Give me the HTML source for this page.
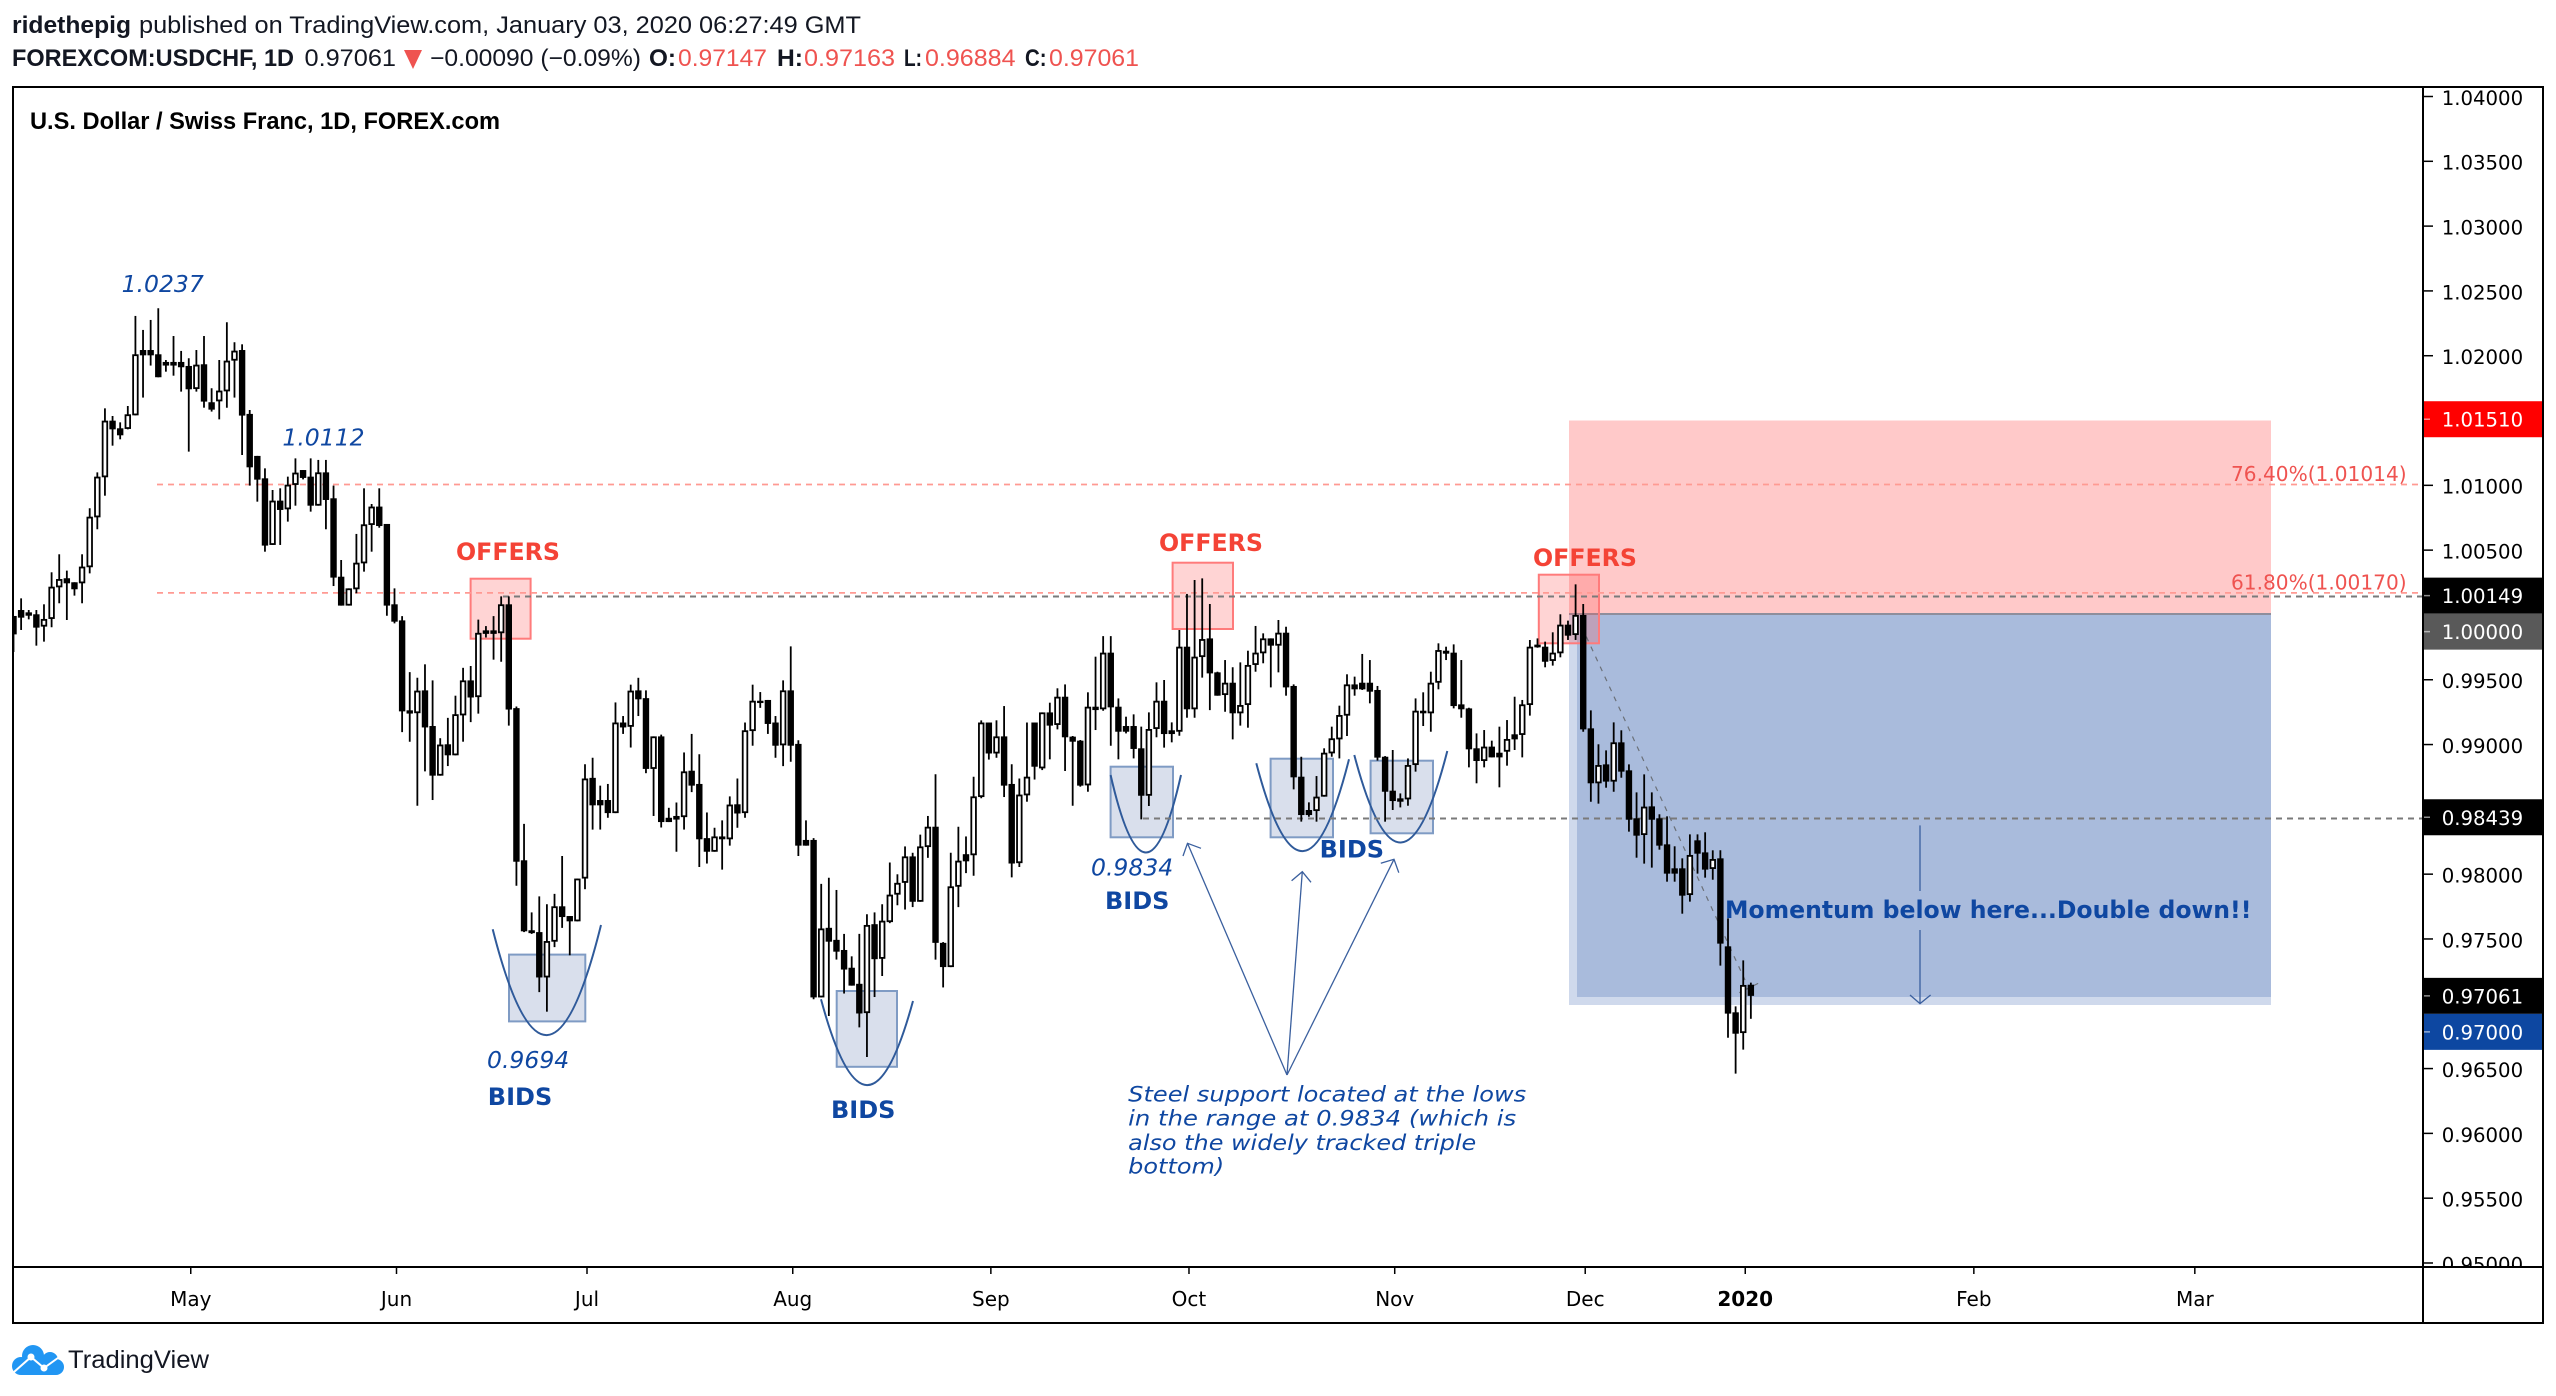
<!DOCTYPE html>
<html lang="en">
<head>
<meta charset="utf-8">
<title>USDCHF chart</title>
<style>
html,body{margin:0;padding:0;background:#fff;width:2556px;height:1396px;overflow:hidden}
svg{display:block}
.hdr{font-family:"Liberation Sans",sans-serif;font-size:24px;fill:#131722}
.b{font-weight:bold}
.red{fill:#ef5350}
.dj{font-family:"DejaVu Sans",sans-serif}
.note{font-family:"DejaVu Sans",sans-serif;font-style:italic;fill:#0f47a1}
.strong-blue{font-family:"DejaVu Sans",sans-serif;font-weight:bold;fill:#0f47a1;font-size:24px}
.offers{font-family:"DejaVu Sans",sans-serif;font-weight:bold;fill:#f44336;font-size:23.7px}
.fib{font-family:"DejaVu Sans",sans-serif;fill:#ef5350;font-size:20px}
.ax{font-family:"DejaVu Sans",sans-serif;font-size:19.7px;fill:#000}
.tm{font-family:"DejaVu Sans",sans-serif;font-size:20px;fill:#000;text-anchor:middle}
</style>
</head>
<body>
<svg id="chart" xmlns="http://www.w3.org/2000/svg" width="2556" height="1396" viewBox="0 0 2556 1396">
  <defs>
    <clipPath id="paneClip"><rect x="13" y="87" width="2410" height="1180"/></clipPath>
    <clipPath id="axisClip"><rect x="2423" y="87" width="120" height="1180"/></clipPath>
  </defs>
  <rect x="0" y="0" width="2556" height="1396" fill="#fff"/>

  <g>
    <text class="hdr b" x="12" y="33" textLength="119" lengthAdjust="spacingAndGlyphs">ridethepig</text>
    <text class="hdr" x="139" y="33" textLength="722" lengthAdjust="spacingAndGlyphs">published on TradingView.com, January 03, 2020 06:27:49 GMT</text>
    <text class="hdr b" x="12" y="66" textLength="282" lengthAdjust="spacingAndGlyphs">FOREXCOM:USDCHF, 1D</text>
    <text class="hdr" x="304.5" y="66" textLength="91.5" lengthAdjust="spacingAndGlyphs">0.97061</text>
    <polygon points="404,50 422,50 413,69" fill="#ef5350"/>
    <text class="hdr" x="430" y="66" textLength="211" lengthAdjust="spacingAndGlyphs">−0.00090 (−0.09%)</text>
    <text class="hdr b" x="649" y="66" textLength="27" lengthAdjust="spacingAndGlyphs">O:</text>
    <text class="hdr red" x="678" y="66" textLength="89" lengthAdjust="spacingAndGlyphs">0.97147</text>
    <text class="hdr b" x="777" y="66" textLength="26" lengthAdjust="spacingAndGlyphs">H:</text>
    <text class="hdr red" x="804" y="66" textLength="91" lengthAdjust="spacingAndGlyphs">0.97163</text>
    <text class="hdr b" x="904" y="66" textLength="18" lengthAdjust="spacingAndGlyphs">L:</text>
    <text class="hdr red" x="925" y="66" textLength="90.5" lengthAdjust="spacingAndGlyphs">0.96884</text>
    <text class="hdr b" x="1025" y="66" textLength="21.5" lengthAdjust="spacingAndGlyphs">C:</text>
    <text class="hdr red" x="1049" y="66" textLength="90" lengthAdjust="spacingAndGlyphs">0.97061</text>
  </g>

  <g id="zones" clip-path="url(#paneClip)">
    <rect x="1569" y="420.5" width="702" height="193.5" fill="#ffc9c9"/>
    <rect x="1569" y="614" width="702" height="391" fill="#cfd9ec"/>
    <rect x="1577" y="614" width="694" height="383" fill="#a9bbdc"/>
    <line x1="1569" y1="614" x2="2271" y2="614" stroke="#8e8e9c" stroke-width="2"/>

    <g fill="rgba(255,82,82,0.25)" stroke="#ff7b7b" stroke-width="2">
      <rect x="470.6" y="578.7" width="60" height="60"/>
      <rect x="1172.6" y="562.7" width="60.4" height="66.3"/>
      <rect x="1538.8" y="574.7" width="60.2" height="68.6"/>
    </g>
    <g fill="#d9dfec" stroke="#7f9bc4" stroke-width="2">
      <rect x="509" y="954.6" width="76.3" height="66.8"/>
      <rect x="836.7" y="991" width="60.3" height="75.8"/>
      <rect x="1110.6" y="766.7" width="62.4" height="70.6"/>
      <rect x="1270.6" y="758.7" width="62.4" height="78.6"/>
      <rect x="1370.6" y="760.7" width="62.4" height="72.6"/>
    </g>
    <g fill="none" stroke="#2f5a9a" stroke-width="2">
      <path d="M492.7 929.3 Q547 1143 601 925"/>
      <path d="M821 999.3 Q867 1170 913 1001"/>
      <path d="M1110.6 775 Q1146 930 1181 775"/>
      <path d="M1256.3 763.3 Q1303 941 1349 759.3"/>
      <path d="M1354.3 755 Q1401 932 1447.3 751"/>
    </g>
    <g fill="none" stroke-width="1.7">
      <line x1="157" y1="484.5" x2="2423" y2="484.5" stroke="#ff9a93" stroke-dasharray="6 5"/>
      <line x1="157" y1="592.9" x2="2423" y2="592.9" stroke="#ff9a93" stroke-dasharray="6 5"/>
      <line x1="503" y1="596.5" x2="2423" y2="596.5" stroke="#7a7a7a" stroke-width="2" stroke-dasharray="6 5"/>
      <line x1="1143" y1="818.5" x2="2423" y2="818.5" stroke="#7a7a7a" stroke-width="2" stroke-dasharray="6 5"/>
      <line x1="1581.7" y1="626.7" x2="1745" y2="980" stroke="#6b7078" stroke-width="1.2" stroke-dasharray="5 6"/>
      <line x1="1739.3" y1="992.7" x2="1758.3" y2="983.3" stroke="#6b7078" stroke-width="1.2" stroke-dasharray="5 3"/>
    </g>
    <g fill="none" stroke="#3a5f9e" stroke-width="1.3">
      <line x1="1920" y1="825.4" x2="1920" y2="891"/>
      <line x1="1920" y1="930" x2="1920" y2="1003.6"/>
      <polyline points="1910,995 1920,1003.6 1930.6,995"/>
    </g>
  </g>

  <g id="candles" clip-path="url(#paneClip)"></g>

  <g>
    <g fill="none" stroke="#3a5f9e" stroke-width="1.3">
      <polyline points="1287,1075 1187.5,843.3"/>
      <polyline points="1183,856 1187.5,843.3 1201,848.3"/>
      <polyline points="1287,1075 1302.3,871.7"/>
      <polyline points="1291.6,880.7 1302.3,871.7 1311,882.3"/>
      <polyline points="1287,1075 1394,859.3"/>
      <polyline points="1380.8,863.3 1394,859.3 1398.8,872.7"/>
    </g>
    <text x="30" y="129" font-family="'Liberation Sans',sans-serif" font-weight="bold" font-size="24" fill="#000" textLength="470" lengthAdjust="spacingAndGlyphs">U.S. Dollar / Swiss Franc, 1D, FOREX.com</text>
    <text class="note" font-size="23.5" x="121.6" y="292">1.0237</text>
    <text class="note" font-size="23.5" x="282.4" y="445.7">1.0112</text>
    <text class="note" font-size="23.5" x="487" y="1067.9">0.9694</text>
    <text class="note" font-size="23.5" x="1091" y="875.7">0.9834</text>
    <text class="offers" x="456" y="560">OFFERS</text>
    <text class="offers" x="1159" y="551">OFFERS</text>
    <text class="offers" x="1533" y="566">OFFERS</text>
    <text class="strong-blue" x="487.8" y="1105">BIDS</text>
    <text class="strong-blue" x="831" y="1118">BIDS</text>
    <text class="strong-blue" x="1105" y="909">BIDS</text>
    <text class="strong-blue" x="1319.6" y="857.3">BIDS</text>
    <text class="strong-blue" x="1725" y="918" textLength="526.5" lengthAdjust="spacingAndGlyphs">Momentum below here...Double down!!</text>
    <text class="fib" x="2231" y="481" textLength="175.6" lengthAdjust="spacingAndGlyphs">76.40%(1.01014)</text>
    <text class="fib" x="2231" y="589.7" textLength="175.6" lengthAdjust="spacingAndGlyphs">61.80%(1.00170)</text>
    <g>
      <text class="note" font-size="21" x="1128.2" y="1101.7" textLength="398" lengthAdjust="spacingAndGlyphs">Steel support located at the lows</text>
      <text class="note" font-size="21" x="1128.2" y="1125.7" textLength="388" lengthAdjust="spacingAndGlyphs">in the range at 0.9834 (which is</text>
      <text class="note" font-size="21" x="1128.2" y="1150" textLength="348" lengthAdjust="spacingAndGlyphs">also the widely tracked triple</text>
      <text class="note" font-size="21" x="1128.2" y="1173.3" textLength="96" lengthAdjust="spacingAndGlyphs">bottom)</text>
    </g>
  </g>

  <g id="priceAxis" clip-path="url(#axisClip)"></g>
  <g id="priceBadges"></g>
  <g id="timeAxis"></g>

  <g fill="none" stroke="#000" stroke-width="2">
    <rect x="13" y="87" width="2530" height="1236"/>
    <line x1="2423" y1="87" x2="2423" y2="1323"/>
    <line x1="13" y1="1267" x2="2543" y2="1267"/>
  </g>

  <g>
    <g fill="#2196f3">
      <circle cx="21" cy="1366" r="9"/>
      <circle cx="33" cy="1356" r="11"/>
      <circle cx="50" cy="1360" r="8"/>
      <circle cx="56" cy="1367" r="8"/>
      <rect x="21" y="1360" width="35" height="15"/>
    </g>
    <polyline points="14,1372 31,1357 44,1368 62,1355" fill="none" stroke="#fff" stroke-width="2"/>
    <circle cx="31" cy="1357" r="3.5" fill="#fff"/>
    <circle cx="44" cy="1368" r="3.5" fill="#fff"/>
    <text x="68" y="1368" font-family="'Liberation Sans',sans-serif" font-size="25" fill="#131722" textLength="141" lengthAdjust="spacingAndGlyphs">TradingView</text>
  </g>
</svg>

<script>
const opens = [.99992,
1.00038,1.00020,1.00005,.99910,.99969,1.00213,1.00283,1.00252,1.00244,1.00368,
1.00753,1.01062,1.01499,1.01440,1.01435,1.01540,1.02044,1.02044,1.02011,1.01952,
1.01952,1.01952,1.01921,1.01743,1.01934,1.01641,1.01648,1.01725,1.01962,1.02044,
1.01551,1.01227,1.01054,1.00540,1.00882,1.00815,1.01003,1.01118,1.01067,1.00843,
1.01100,1.00900,1.00295,1.00072,1.00198,1.00398,1.00694,1.00836,1.00702,1.00082,
.99958,.99264,.99242,.99418,.99143,.98760,.99002,.98917,.99225,.99495,
.99366,.99881,.99881,.99859,1.00082,.99281,.98107,.97567,.97553,.97203,
.97479,.97752,.97677,.97636,.97966,.98743,.98572,.98572,.98471,.99170,
.99137,.99418,.99358,.98812,.99063,.98435,.98449,.98440,.98798,.98696,
.98278,.98173,.98291,.98269,.98539,.98471,.99104,.99338,.99344,.99170,
.98994,.99418,.99005,.98264,.98264,.97049,.97586,.97493,.97415,.97278,
.97154,.96928,.97614,.97347,.97630,.97842,.97933,.98137,.97787,.98209,
.98366,.97470,.97283,.97903,.98154,.98146,.98595,.99170,.98931,.99063,
.98696,.98085,.98608,.99170,.98816,.99248,.99151,.99369,.99061,.99030,
.98685,.99292,.99272,.99709,.99292,.99143,.99143,.98971,.98605,.99120,
.99338,.99110,.99099,.99755,.99272,.99675,.99819,.99557,.99382,.99477,
.99241,.99305,.99614,.99704,.99819,.99763,.99863,.99452,.98752,.98495,
.98487,.98598,.98932,.99040,.99223,.99464,.99477,.99477,.99421,.98906,
.98644,.98585,.98577,.98842,.99261,.99241,.99477,.99724,.99709,.99310,
.99279,.98971,.98873,.98984,.98937,.98945,.99079,.99074,.99305,.99771,
.99755,.99645,.99704,.99925,.99845,1.00000,.99125,.98701,.98847,.98714,
.99017,.98801,.98431,.98302,.98523,.98431,.98230,.98045,.98045,.97839,
.98261,.98168,.98040,.98122,.97443,.96934,.96774,.97147];

const highs = [.99992,
1.00128,1.00038,1.00038,1.00082,1.00329,1.00468,1.00342,1.00252,1.00468,1.00823,
1.01100,1.01594,1.01535,1.01486,1.01612,1.02307,1.02199,1.02276,1.02366,1.01967,
1.02152,1.02037,1.01980,1.02044,1.02152,1.01749,1.01967,1.02258,1.02104,1.02088,
1.01581,1.01227,1.01131,1.00964,1.00977,1.01067,1.01208,1.01118,1.01208,1.01196,
1.01196,1.00998,1.00424,1.00205,1.00625,1.00977,1.00856,1.00977,1.00702,1.00205,
.99991,.99559,.99515,.99619,.99495,.99049,.99206,.99377,.99592,.99606,
.99964,.99914,.99991,1.00143,1.00143,.99294,.98388,.97705,.97829,.97768,
.97848,.98140,.97677,.97966,.98848,.98898,.98683,.98696,.99325,.99220,
.99462,.99515,.99418,.99063,.99077,.98512,.98553,.98939,.99082,.98925,
.98476,.98358,.98415,.98600,.98738,.99170,.99462,.99405,.99344,.99220,
.99495,.99757,.99033,.98415,.98278,.97925,.97972,.97878,.97539,.97366,
.97539,.97691,.97705,.97768,.98090,.97999,.98214,.98165,.98305,.98449,
.98771,.97476,.98165,.98366,.98291,.98752,.99187,.99170,.99187,.99297,
.98848,.98738,.99170,.99170,.99248,.99323,.99434,.99464,.99066,.99035,
.99403,.99678,.99837,.99837,.99356,.99215,.99233,.99138,.99248,.99480,
.99498,.99171,.99884,1.00162,1.00270,1.00282,1.00084,.99562,.99652,.99596,
.99634,.99724,.99915,.99858,.99819,.99961,.99909,.99464,.98906,.98554,
.98757,.98971,.99138,.99300,.99542,.99524,.99699,.99652,.99452,.98911,
.98958,.98623,.98893,.99356,.99403,.99562,.99781,.99755,.99773,.99652,
.99284,.99086,.99112,.99030,.99138,.99189,.99369,.99344,.99807,.99819,
.99794,.99866,1.00005,.99956,1.00236,1.00084,.99264,.99002,.98955,.99171,
.99110,.98847,.98631,.98770,.98631,.98462,.98446,.98215,.98122,.98307,
.98307,.98323,.98184,.98184,.97659,.96980,.97335,.97163];

const lows = [.99714,
.99884,.99966,.99763,.99794,.99905,1.00090,.99961,1.00149,1.00090,1.00321,
1.00661,1.00920,1.01306,1.01355,1.01432,1.01540,1.01677,1.01924,1.01834,1.01877,
1.01846,1.01723,1.01260,1.01723,1.01599,1.01569,1.01509,1.01599,1.01677,1.01234,
1.00998,1.00874,1.00488,1.00540,1.00540,1.00720,1.00843,1.01046,1.00797,1.00843,
1.00661,1.00223,1.00072,1.00072,1.00167,1.00334,1.00488,1.00673,.99994,.99935,
.99096,.99022,.98528,.98793,.98572,.98760,.98834,.98917,.99022,.99173,
.99239,.99826,.99655,.99639,.99146,.97911,.97553,.97539,.97090,.96939,
.97437,.97586,.97374,.97636,.97884,.98344,.98344,.98435,.98471,.99082,
.98977,.99220,.98779,.98449,.98360,.98402,.98173,.98344,.98633,.98055,
.98082,.98173,.98035,.98220,.98358,.98435,.98991,.99283,.99082,.98898,
.98834,.98867,.98140,.98220,.97035,.97049,.96906,.97341,.97079,.97140,
.96818,.96589,.97052,.97214,.97622,.97760,.97727,.97746,.97787,.98126,
.97341,.97126,.97283,.97746,.98008,.97988,.98586,.98884,.98898,.98595,
.97975,.98055,.98559,.98730,.98803,.98886,.99117,.98796,.98528,.98675,
.98636,.99112,.99261,.98991,.98886,.99086,.98893,.98423,.98526,.99056,
.98976,.99017,.99068,.99207,.99207,.99516,.99266,.99377,.99253,.99040,
.99146,.99130,.99562,.99627,.99441,.99557,.99377,.98654,.98405,.98443,
.98405,.98598,.98906,.98893,.99066,.99377,.99421,.99318,.98876,.98405,
.98495,.98515,.98528,.98791,.99143,.99099,.99426,.99652,.99279,.99207,
.98824,.98701,.98824,.98901,.98670,.98837,.98958,.98901,.99223,.99747,
.99596,.99609,.99673,.99807,.99807,.99099,.98559,.98544,.98667,.98636,
.98744,.98328,.98127,.98081,.98050,.98189,.97942,.97942,.97695,.97788,
.98004,.97973,.97957,.97294,.96738,.96461,.96646,.96884];

const closes = [.99850,
.99979,.99994,.99902,.99969,1.00218,1.00277,1.00244,1.00198,1.00373,1.00758,
1.01067,1.01499,1.01432,1.01386,1.01548,1.02011,1.02003,1.02003,1.01834,1.01924,
1.01924,1.01911,1.01741,1.01931,1.01646,1.01584,1.01731,1.01962,1.02039,1.01538,
1.01139,1.01044,1.00535,1.00882,1.00810,1.01005,1.01098,1.01057,1.00843,1.01100,
1.00887,1.00288,1.00072,1.00205,1.00403,1.00699,1.00836,1.00686,1.00072,.99948,
.99256,.99239,.99416,.99132,.98760,.99000,.98917,.99234,.99495,.99363,
.99862,.99854,.99854,1.00082,.99270,.98096,.97559,.97545,.97203,.97484,
.97752,.97669,.97636,.97966,.98738,.98531,.98531,.98471,.99170,.99132,
.99416,.99349,.98812,.99063,.98402,.98402,.98421,.98793,.98683,.98269,
.98173,.98291,.98269,.98537,.98468,.99110,.99338,.99327,.99159,.98991,
.99418,.98991,.98220,.98220,.97049,.97581,.97479,.97402,.97264,.97140,
.96925,.97608,.97344,.97641,.97842,.97933,.98137,.97787,.98214,.98366,
.97470,.97283,.97906,.98104,.98099,.98600,.99170,.98931,.99063,.98683,
.98082,.98614,.98752,.98829,.99248,.99146,.99369,.99056,.99022,.98683,
.99292,.99266,.99709,.99287,.99099,.99099,.98966,.98605,.99120,.99338,
.99081,.99081,.99755,.99272,.99678,.99814,.99549,.99377,.99477,.99241,
.99305,.99614,.99709,.99819,.99763,.99863,.99441,.98747,.98456,.98456,
.98598,.98937,.99048,.99228,.99464,.99426,.99426,.99408,.98899,.98636,
.98564,.98559,.98842,.99261,.99241,.99477,.99729,.99701,.99297,.99272,
.98963,.98873,.98984,.98901,.98901,.99043,.99040,.99310,.99755,.99750,
.99639,.99709,.99925,.99840,1.00000,.99117,.98701,.98842,.98714,.99017,
.98791,.98420,.98297,.98521,.98420,.98220,.98004,.98004,.97834,.98148,
.98158,.98035,.98117,.97464,.96924,.96769,.97145,.97061];

const priceTicks = [1.04,1.035,1.03,1.025,1.02,1.01,1.005,0.995,0.99,0.98,0.975,0.965,0.96,0.955,0.95];
const priceTickLabels = ["1.04000","1.03500","1.03000","1.02500","1.02000","1.01000","1.00500","0.99500","0.99000","0.98000","0.97500","0.96500","0.96000","0.95500","0.95000"];
const badgePrices = [1.0151,1.00149,1.0,0.98439,0.97061,0.97];
const badgeLabels = ["1.01510","1.00149","1.00000","0.98439","0.97061","0.97000"];
const badgeColors = ["#ff0000","#000000","#595959","#000000","#000000","#0d47a1"];
const monthBars = [23,50,75,102,128,154,181,206,227,257,286];
const monthLabels = ["May","Jun","Jul","Aug","Sep","Oct","Nov","Dec","2020","Feb","Mar"];

const NS = "http://www.w3.org/2000/svg";
function xOf(i){ return 13.5 + i * 7.62; }
function yOf(p){ return 96.5 + (1.04 - p) * 12961; }
function tickXOf(i){ return xOf(i) + 2; }
function make(tag, parent){
  const el = document.createElementNS(NS, tag);
  parent.appendChild(el);
  return el;
}

const candleGroup = document.getElementById("candles");
for (let i = 0; i < opens.length; i++) {
  const x = xOf(i);
  const up = closes[i] >= opens[i];
  const g = make("g", candleGroup);
  
  
  const wick = make("line", g);
  
  
  wick.setAttribute("x1", x);
  wick.setAttribute("x2", x);
  wick.setAttribute("y1", yOf(highs[i]));
  wick.setAttribute("y2", yOf(lows[i]));
  wick.setAttribute("stroke", "#000");
  wick.setAttribute("stroke-width", "1.8");
  const top = yOf(Math.max(opens[i], closes[i]));
  const bot = yOf(Math.min(opens[i], closes[i]));
  const body = make("rect", g);
  
  
  body.setAttribute("x", x - 2.3);
  body.setAttribute("y", top + 0.9);
  body.setAttribute("width", 4.6);
  body.setAttribute("height", Math.max(bot - top - 1.8, 0.5));
  body.setAttribute("fill", up ? "#fff" : "#000");
  body.setAttribute("stroke", "#000");
  body.setAttribute("stroke-width", "1.8");
}

const priceAxis = document.getElementById("priceAxis");
priceTicks.forEach(function(p, i){
  const y = yOf(p);
  const tick = make("line", priceAxis);
  
  
  tick.setAttribute("x1", 2423);
  tick.setAttribute("x2", 2433);
  tick.setAttribute("y1", y);
  tick.setAttribute("y2", y);
  tick.setAttribute("stroke", "#000");
  tick.setAttribute("stroke-width", "1.5");
  const label = make("text", priceAxis);
  
  
  label.setAttribute("class", "ax");
  label.setAttribute("x", 2441.7);
  label.setAttribute("y", y + 8.4);
  label.textContent = priceTickLabels[i];
});

const badgeGroup = document.getElementById("priceBadges");
let lastCenter = -1000;
badgePrices.forEach(function(p, i){
  const y = yOf(p);
  const center = Math.max(y, lastCenter + 36);
  lastCenter = center;
  const box = make("rect", badgeGroup);
  
  
  box.setAttribute("x", 2422);
  box.setAttribute("y", center - 18);
  box.setAttribute("width", 120);
  box.setAttribute("height", 36);
  box.setAttribute("fill", badgeColors[i]);
  const dash = make("line", badgeGroup);
  
  
  dash.setAttribute("x1", 2423);
  dash.setAttribute("x2", 2430);
  dash.setAttribute("y1", center);
  dash.setAttribute("y2", center);
  dash.setAttribute("stroke", "rgba(255,255,255,0.55)");
  dash.setAttribute("stroke-width", "1.5");
  const label = make("text", badgeGroup);
  
  
  label.setAttribute("class", "ax");
  label.setAttribute("x", 2441.7);
  label.setAttribute("y", center + 7.5);
  label.setAttribute("fill", "#fff");
  label.style.fill = "#fff";
  label.textContent = badgeLabels[i];
});

const timeAxis = document.getElementById("timeAxis");
monthBars.forEach(function(b, i){
  const x = tickXOf(b);
  const tick = make("line", timeAxis);
  
  
  tick.setAttribute("x1", x);
  tick.setAttribute("x2", x);
  tick.setAttribute("y1", 1267);
  tick.setAttribute("y2", 1274);
  tick.setAttribute("stroke", "#000");
  tick.setAttribute("stroke-width", "1.5");
  const label = make("text", timeAxis);
  
  
  label.setAttribute("class", "tm");
  label.setAttribute("x", x);
  label.setAttribute("y", 1306);
  if (monthLabels[i] === "2020") label.setAttribute("font-weight", "bold");
  label.textContent = monthLabels[i];
});
</script>
</body>
</html>
